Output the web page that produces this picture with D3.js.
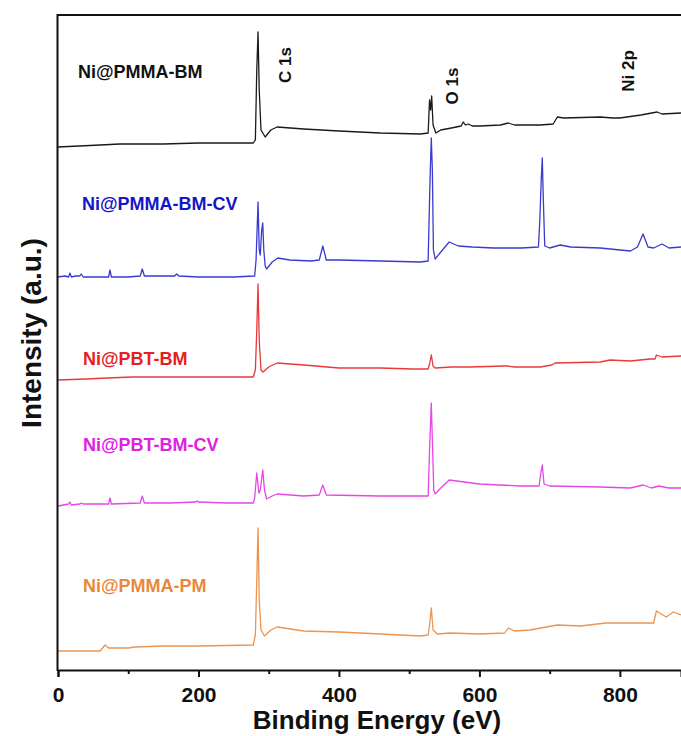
<!DOCTYPE html>
<html>
<head>
<meta charset="utf-8">
<script src="https://cdn.jsdelivr.net/npm/d3@7"></script>
<style>
  body { margin: 0; background: #fff; }
  svg { display: block; }
  text { font-family: "Liberation Sans", Arial, Helvetica, sans-serif; font-weight: bold; }
</style>
</head>
<body>
<svg id="chart" width="681" height="736"></svg>
<script>
// XPS survey spectra, stacked with vertical offsets: [binding energy (eV), intensity (a.u.)]
const pmmaBM = [
  [0, 523], [30, 524], [60, 525], [88, 526], [150, 526], [200, 527], [278, 527],
  [281, 530], [283, 600], [284.8, 638], [286.5, 580], [289, 540], [295, 533],
  [303, 540], [312, 543], [350, 541], [400, 539], [459, 537], [516, 536],
  [527, 537], [529, 570], [530.5, 560], [532, 574], [534, 545], [538, 537],
  [545, 540], [560, 542], [574, 544], [577, 548], [580, 545], [584, 546],
  [590, 544], [601, 544], [630, 545], [641, 547], [650, 545], [687, 545],
  [705, 546], [711, 553], [720, 552], [772, 553], [790, 552], [800, 552],
  [830, 555], [853, 558], [860, 556], [887, 557]
];
const pmmaBMCV = [
  [0, 393], [10, 394], [15, 393], [17, 397], [19, 393], [25, 394], [31, 394],
  [33, 396], [36, 393], [50, 393], [72, 393], [74, 400], [76, 393], [100, 393],
  [117, 394], [120, 401], [123, 394], [150, 394], [166, 394], [169, 396],
  [172, 394], [200, 393], [250, 393], [280, 394], [282, 410], [284.8, 468],
  [286.5, 420], [288, 415], [290, 440], [291.5, 447], [293, 420], [295, 404],
  [297, 401], [305, 408], [313, 412], [330, 410], [360, 409], [372, 410],
  [377, 424], [382, 410], [400, 410], [459, 409], [516, 408], [527, 409],
  [529, 470], [530.5, 510], [531.5, 532], [533, 500], [534.5, 420], [537, 411],
  [545, 418], [557, 428], [570, 424], [590, 423], [620, 422], [660, 422],
  [684, 423], [686, 450], [688, 490], [689.5, 512], [691, 470], [693, 424],
  [700, 422], [715, 425], [730, 423], [772, 422], [815, 419], [825, 423],
  [833, 436], [840, 423], [848, 422], [860, 426], [870, 422], [887, 423]
];
const pbtBM = [
  [0, 290], [40, 291], [70, 292], [106, 293], [150, 293], [200, 293], [278, 293],
  [281, 300], [283, 340], [284.8, 386], [286.5, 330], [289, 300], [292, 298],
  [300, 303], [312, 307], [350, 305], [400, 302], [459, 302], [505, 301],
  [527, 301], [529, 306], [531.5, 315], [534, 304], [537, 302], [560, 303],
  [586, 303], [636, 304], [640, 304], [650, 303], [687, 303], [703, 305],
  [708, 307], [772, 308], [786, 310], [815, 309], [843, 311], [850, 311],
  [852, 315], [860, 313], [887, 314]
];
const pbtBMCV = [
  [0, 164], [15, 166], [17, 168], [19, 165], [31, 166], [33, 167], [36, 166],
  [72, 166], [74, 172], [76, 166], [117, 167], [120, 174], [123, 167],
  [160, 167], [196, 168], [198, 169], [200, 168], [240, 167], [278, 167],
  [280, 172], [283, 197], [286, 177], [288, 180], [291.5, 200], [294, 180],
  [297, 171], [305, 174], [312, 176], [350, 174], [372, 175], [377, 185],
  [382, 175], [459, 174], [527, 174], [529, 220], [531.5, 267], [533, 230],
  [535, 180], [537, 176], [545, 182], [557, 190], [600, 186], [658, 184],
  [685, 184], [687, 195], [689.5, 205], [692, 186], [700, 184], [772, 183],
  [815, 182], [833, 185], [845, 182], [855, 184], [870, 182], [887, 182]
];
const pmmaPM = [
  [0, 19], [40, 19], [60, 19], [67, 25], [72, 22], [100, 22], [110, 23],
  [150, 24], [200, 24], [278, 25], [281, 35], [283, 90], [284.8, 142],
  [286.5, 70], [289, 40], [294, 34], [303, 40], [312, 43], [350, 39],
  [400, 38], [459, 36], [516, 34], [527, 35], [529, 45], [531.5, 62],
  [534, 40], [540, 36], [558, 37], [600, 36], [636, 37], [641, 42], [650, 39],
  [672, 40], [711, 45], [744, 44], [780, 47], [848, 47], [852, 59], [866, 53],
  [876, 58], [887, 55]
];

const seriesNames = ["Ni@PMMA-BM", "Ni@PMMA-BM-CV", "Ni@PBT-BM", "Ni@PBT-BM-CV", "Ni@PMMA-PM"];
const seriesData = [pmmaBM, pmmaBMCV, pbtBM, pbtBMCV, pmmaPM];
const peakNames = ["C 1s", "O 1s", "Ni 2p"];
const majorTicks = [0, 200, 400, 600, 800];
const minorTicks = [100, 300, 500, 700];

// styling / layout
const lineColors = ["#1a1a1a", "#3a3acf", "#e8383a", "#e646e6", "#ec9450"];
const textColors = ["#111111", "#1515c8", "#e51e1e", "#e020e0", "#e9883a"];
const labelPos = [[78, 78], [82, 210], [83, 365], [83, 451], [83, 592]];
const peakPos = [[285, 65], [452, 86], [628, 71]];

const svg = d3.select("#chart");
const x = d3.scaleLinear().domain([0, 887]).range([58, 681]);
const y = d3.scaleLinear().domain([0, 655]).range([670, 15]);

const line = d3.line().x(d => x(d[0])).y(d => y(d[1]));

// spectra
svg.append("g").selectAll("path")
  .data(seriesData)
  .join("path")
  .attr("d", line)
  .attr("fill", "none")
  .attr("stroke", (d, i) => lineColors[i])
  .attr("stroke-width", 1.3)
  .attr("stroke-linejoin", "round");

// frame: left and top lines
svg.append("line").attr("x1", 57.5).attr("x2", 57.5).attr("y1", 14).attr("y2", 671)
  .attr("stroke", "#111").attr("stroke-width", 2);
svg.append("line").attr("x1", 57).attr("x2", 681).attr("y1", 15).attr("y2", 15)
  .attr("stroke", "#111").attr("stroke-width", 2);

// bottom axis with major and minor ticks
const axisG = svg.append("g").attr("transform", "translate(0,670)");
axisG.call(d3.axisBottom(x).tickValues(majorTicks).tickSize(7).tickPadding(10).tickFormat(d3.format("d")));
axisG.append("g").call(d3.axisBottom(x).tickValues(minorTicks).tickSize(4).tickFormat(""))
  .select(".domain").remove();
axisG.selectAll(".domain").attr("stroke", "#111").attr("stroke-width", 2);
axisG.selectAll(".tick line").attr("stroke", "#111").attr("stroke-width", 2);
axisG.selectAll(".tick text").attr("fill", "#111").attr("font-size", 21)
  .style("font-family", "'Liberation Sans', Arial, sans-serif").style("font-weight", "bold");

// axis titles
svg.append("text").attr("x", 377).attr("y", 729).attr("text-anchor", "middle")
  .attr("font-size", 26).attr("fill", "#111").text("Binding Energy (eV)");
svg.append("text").attr("transform", "translate(41,333) rotate(-90)").attr("text-anchor", "middle")
  .attr("font-size", 28).attr("fill", "#111").text("Intensity (a.u.)");

// sample labels
svg.append("g").selectAll("text")
  .data(seriesNames)
  .join("text")
  .attr("x", (d, i) => labelPos[i][0])
  .attr("y", (d, i) => labelPos[i][1])
  .attr("font-size", 18)
  .attr("fill", (d, i) => textColors[i])
  .text(d => d);

// core-level annotations
svg.append("g").selectAll("text")
  .data(peakNames)
  .join("text")
  .attr("transform", (d, i) => `translate(${peakPos[i][0]},${peakPos[i][1]}) rotate(-90)`)
  .attr("text-anchor", "middle")
  .attr("dy", "0.35em")
  .attr("font-size", 17)
  .attr("fill", "#111")
  .text(d => d);
</script>
</body>
</html>
